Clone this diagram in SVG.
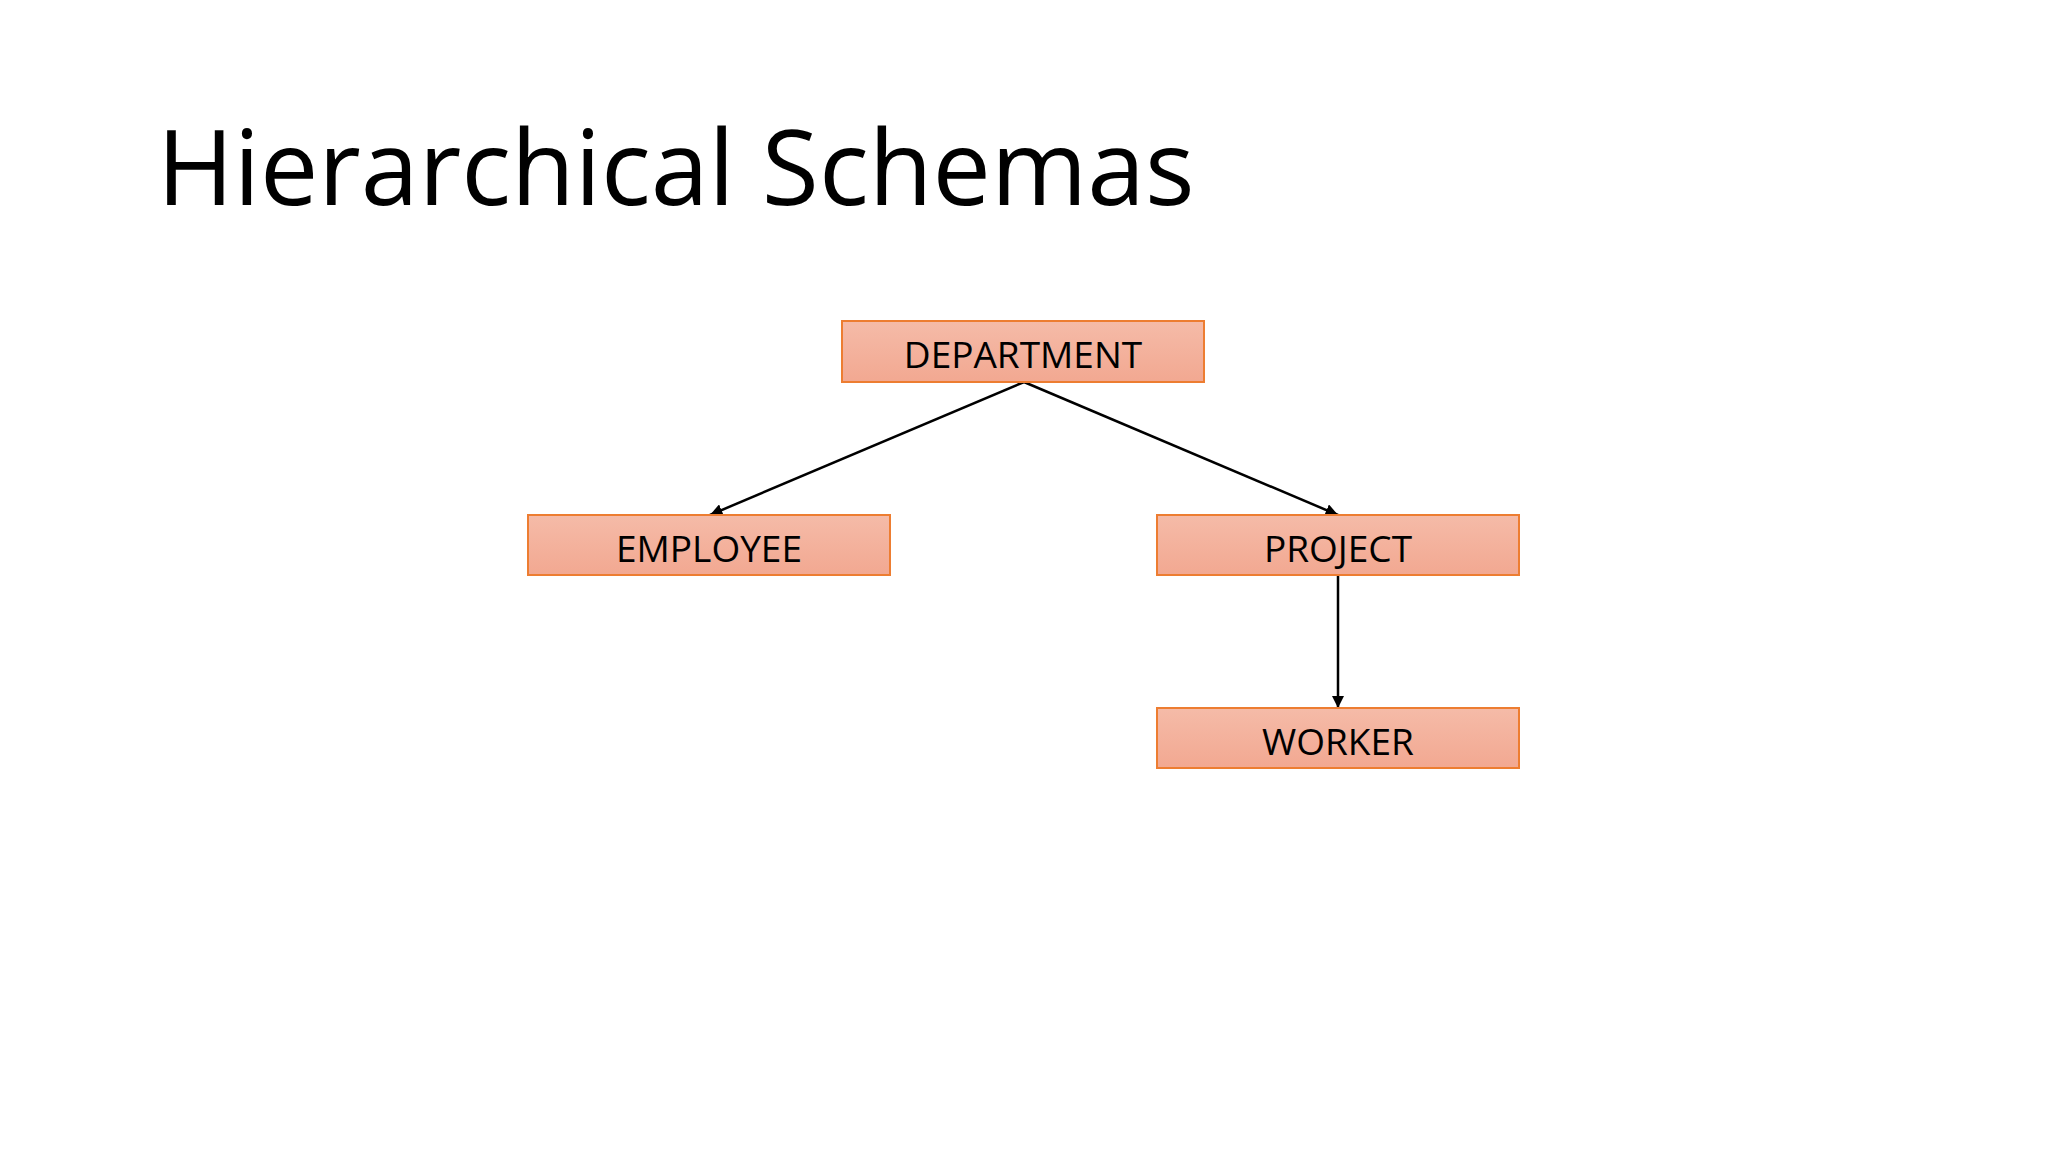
<svg xmlns="http://www.w3.org/2000/svg" width="2048" height="1152" viewBox="0 0 2048 1152">
<style>
.box{fill:url(#g);stroke:#ed7d31;stroke-width:2}
.lbl{font-family:"Open Sans","Noto Sans",sans-serif;font-size:37px;fill:#000;text-anchor:middle;dominant-baseline:central}
.con{stroke:#000;stroke-width:2.5;fill:none;marker-end:url(#a)}
</style>
<defs>
<linearGradient id="g" x1="0" y1="0" x2="0" y2="1"><stop offset="0" stop-color="#f5bba8"/><stop offset="1" stop-color="#f2a891"/></linearGradient>
<marker id="a" viewBox="0 0 10 10" refX="10" refY="5" markerWidth="5" markerHeight="5" orient="auto"><path d="M0,0L10,5L0,10z" fill="#000"/></marker>
</defs>
<rect width="2048" height="1152" fill="#fff"/>
<text x="157" y="205" font-family="'Open Sans','Noto Sans',sans-serif" font-size="104" fill="#000">Hierarchical Schemas</text>
<g id="connectors">
<path class="con" d="M1024,382L710,515"/>
<path class="con" d="M1024,382L1338,515"/>
<path class="con" d="M1338,575L1338,708"/>
</g>
<g id="department"><rect class="box" x="842" y="321" width="362" height="61"/><text class="lbl" x="1023" y="353">DEPARTMENT</text></g>
<g id="employee"><rect class="box" x="528" y="515" width="362" height="60"/><text class="lbl" x="709" y="547">EMPLOYEE</text></g>
<g id="project"><rect class="box" x="1157" y="515" width="362" height="60"/><text class="lbl" x="1338" y="547">PROJECT</text></g>
<g id="worker"><rect class="box" x="1157" y="708" width="362" height="60"/><text class="lbl" x="1338" y="740">WORKER</text></g>
</svg>
